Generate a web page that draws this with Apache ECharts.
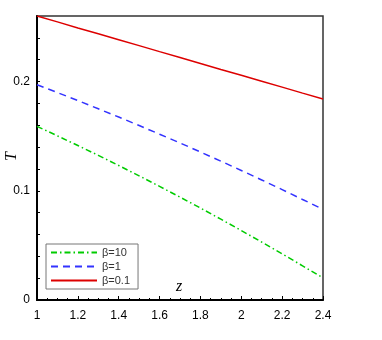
<!DOCTYPE html>
<html>
<head>
<meta charset="utf-8">
<script src="https://cdn.jsdelivr.net/npm/echarts@6/dist/echarts.min.js"></script>
<style>
  html, body { margin: 0; padding: 0; background: #fff; }
  #chart { width: 382px; height: 340px; }
</style>
</head>
<body>
<div id="chart"></div>
<script>
// z grid shared by all curves
const zValues = [1.0, 1.1, 1.2, 1.3, 1.4, 1.5, 1.6, 1.7, 1.8, 1.9, 2.0, 2.1, 2.2, 2.3, 2.4]

// T for each beta
const tBeta10 = [0.159, 0.1503, 0.1414, 0.1324, 0.1231, 0.1137, 0.1040, 0.0942, 0.0842, 0.0740, 0.0636, 0.0530, 0.0422, 0.0313, 0.0202]
const tBeta1 = [0.197, 0.1899, 0.1826, 0.1751, 0.1675, 0.1597, 0.1518, 0.1438, 0.1355, 0.1271, 0.1186, 0.1099, 0.1011, 0.0920, 0.0830]
const tBeta01 = [0.260, 0.2546, 0.2491, 0.2437, 0.2383, 0.2329, 0.2274, 0.2220, 0.2166, 0.2111, 0.2057, 0.2003, 0.1949, 0.1894, 0.1840]

const seriesNames = ['β=10', 'β=1', 'β=0.1']
const yLabels = [0, 0.1, 0.2]

const pairs = (ys) => zValues.map((z, i) => [z, ys[i]])

const chart = echarts.init(document.getElementById('chart'))

const serifItalic = {
  fontFamily: 'Liberation Serif, DejaVu Serif, serif',
  fontStyle: 'italic',
  fontSize: 16,
  fill: '#000'
}

const option = {
  animation: false,
  textStyle: { fontFamily: 'Liberation Sans, Arial, sans-serif' },
  grid: {
    left: 37, right: 59, top: 16, bottom: 40,
    containLabel: false,
    outerBoundsMode: 'none',
    show: true,
    borderColor: '#333',
    borderWidth: 1.5
  },
  // axis titles, placed like the original figure
  graphic: [
    { type: 'text', left: 176, top: 279, style: { ...serifItalic, text: 'z' } },
    { type: 'text', left: 4, top: 152, rotation: Math.PI / 2, style: { ...serifItalic, text: 'T' } }
  ],
  legend: {
    data: seriesNames,
    orient: 'vertical',
    left: 46,
    top: 244,
    itemWidth: 46,
    itemHeight: 10,
    itemGap: 3,
    padding: [3, 8, 3, 4],
    borderColor: '#777',
    borderWidth: 1,
    itemStyle: { opacity: 0 },
    textStyle: { fontSize: 11, color: '#333' }
  },
  xAxis: {
    type: 'value',
    min: 1,
    max: 2.4,
    interval: 0.2,
    axisLine: { lineStyle: { color: '#000', width: 2 } },
    axisTick: { inside: true, length: 4, lineStyle: { color: '#000' } },
    minorTick: { show: true, splitNumber: 4, length: 2, lineStyle: { color: '#000' } },
    axisLabel: {
      color: '#000', fontSize: 12, margin: 10,
      formatter: (v) => String(+v.toFixed(2))
    },
    splitLine: { show: false }
  },
  yAxis: {
    type: 'value',
    min: 0,
    max: 0.26,
    interval: 0.02,
    axisLine: { show: true, lineStyle: { color: '#000', width: 2 } },
    axisTick: { inside: true, length: 3, lineStyle: { color: '#000' } },
    axisLabel: {
      color: '#000', fontSize: 12, margin: 7,
      formatter: (v) => {
        const hit = yLabels.find((l) => Math.abs(l - v) < 1e-6)
        return hit === undefined ? '' : String(hit)
      }
    },
    splitLine: { show: false }
  },
  series: [
    {
      name: seriesNames[0],
      type: 'line',
      symbol: 'none',
      data: pairs(tBeta10),
      lineStyle: { color: '#00cc00', width: 1.5, type: [6, 3, 1.5, 3] },
      itemStyle: { color: '#00cc00' }
    },
    {
      name: seriesNames[1],
      type: 'line',
      symbol: 'none',
      data: pairs(tBeta1),
      lineStyle: { color: '#3333ff', width: 1.5, type: [7, 5] },
      itemStyle: { color: '#3333ff' }
    },
    {
      name: seriesNames[2],
      type: 'line',
      symbol: 'none',
      data: pairs(tBeta01),
      lineStyle: { color: '#dd0000', width: 1.5 },
      itemStyle: { color: '#dd0000' }
    }
  ]
}

chart.setOption(option)
</script>
</body>
</html>
